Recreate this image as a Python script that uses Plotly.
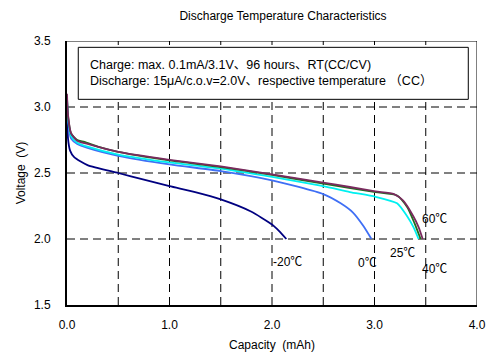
import plotly.graph_objects as go

cap_m20 = [0, 0.01, 0.03, 0.07, 0.2, 0.5, 0.75, 1.0, 1.25, 1.5, 1.79, 2.0, 2.07, 2.14]
v_m20 = [3.06, 2.76, 2.67, 2.62, 2.56, 2.50, 2.45, 2.40, 2.355, 2.30, 2.21, 2.11, 2.06, 2.0]

cap_0 = [0, 0.01, 0.04, 0.1, 0.2, 0.5, 1.0, 1.5, 2.0, 2.5, 2.67, 2.79, 2.89, 2.97]
v_0 = [3.05, 2.90, 2.76, 2.72, 2.69, 2.63, 2.565, 2.515, 2.445, 2.34, 2.27, 2.20, 2.10, 2.0]

cap_25 = [0, 0.01, 0.04, 0.1, 0.2, 0.5, 1.0, 1.5, 2.0, 2.5, 2.76, 3.01, 3.22, 3.32, 3.38, 3.43]
v_25 = [3.07, 2.92, 2.78, 2.73, 2.70, 2.64, 2.58, 2.533, 2.47, 2.40, 2.356, 2.32, 2.27, 2.17, 2.09, 2.0]

cap_40 = [0, 0.01, 0.04, 0.1, 0.17, 0.3, 0.5, 1.0, 1.5, 2.0, 2.5, 3.01, 3.22, 3.32, 3.39, 3.45]
v_40 = [3.08, 2.93, 2.80, 2.75, 2.735, 2.70, 2.66, 2.595, 2.545, 2.485, 2.42, 2.355, 2.33, 2.24, 2.12, 2.0]

cap_60 = [0, 0.01, 0.04, 0.1, 0.2, 0.5, 1.0, 1.5, 2.0, 2.5, 2.76, 3.01, 3.19, 3.28, 3.38, 3.43, 3.47]
v_60 = [3.10, 2.94, 2.80, 2.745, 2.72, 2.66, 2.60, 2.55, 2.49, 2.427, 2.394, 2.36, 2.34, 2.29, 2.17, 2.09, 2.0]

series_names = ["-20℃", "0℃", "25℃", "40℃", "60℃"]
series_colors = ["#000080", "#3F6FF5", "#00F0F0", "#1E6E1E", "#7A2A5E"]
label_x = [2.15, 2.93, 3.27, 3.59, 3.59]
label_y = [1.823, 1.82, 1.894, 1.77, 2.149]

x_ticks = [0, 1, 2, 3, 4]
x_tick_text = ["0.0", "1.0", "2.0", "3.0", "4.0"]
y_ticks = [1.5, 2.0, 2.5, 3.0, 3.5]
y_tick_text = ["1.5", "2.0", "2.5", "3.0", "3.5"]

note_lines = ["Charge: max. 0.1mA/3.1V、96 hours、RT(CC/CV)",
              "Discharge: 15μA/c.o.v=2.0V、respective temperature （CC）"]

FONT = "Liberation Sans, Arial, Noto Sans CJK JP, sans-serif"

fig = go.Figure()
all_x = [cap_m20, cap_0, cap_25, cap_40, cap_60]
all_y = [v_m20, v_0, v_25, v_40, v_60]
for xs, ys, name, col in zip(all_x, all_y, series_names, series_colors):
    fig.add_trace(go.Scatter(x=xs, y=ys, mode="lines", name=name,
                             line=dict(color=col, width=1.8, shape="spline", smoothing=0.6)))

# dashed grid
grid_dash = "8px,5px"
for gx in [0.5, 1.0, 1.5, 2.0, 2.5, 3.0, 3.5]:
    fig.add_shape(type="line", x0=gx, x1=gx, y0=1.5, y1=3.5, xref="x", yref="y",
                  line=dict(color="black", width=1, dash=grid_dash), layer="below")
for gy in [2.0, 2.5, 3.0]:
    fig.add_shape(type="line", x0=0, x1=4, y0=gy, y1=gy, xref="x", yref="y",
                  line=dict(color="black", width=1, dash=grid_dash), layer="below")

# top and right thin frame
fig.add_shape(type="line", x0=0, x1=4, y0=3.5, y1=3.5, xref="x", yref="y",
              line=dict(color="black", width=1))
fig.add_shape(type="line", x0=4, x1=4, y0=1.5, y1=3.5, xref="x", yref="y",
              line=dict(color="black", width=1))

# condition box
fig.add_shape(type="rect", x0=0.11, x1=3.915, y0=3.058, y1=3.452, xref="x", yref="y",
              line=dict(color="black", width=1), fillcolor="white")
fig.add_annotation(x=0.205, y=3.255, xref="x", yref="y", text="<br>".join(note_lines),
                   showarrow=False, xanchor="left", yanchor="middle", align="left",
                   font=dict(family=FONT, size=12.5, color="black"))

for t, lx, ly in zip(series_names, label_x, label_y):
    fig.add_annotation(x=lx, y=ly, xref="x", yref="y", text=t, showarrow=False,
                       font=dict(family=FONT, size=12, color="black"))

# the page body adds an 8px offset, so margins are compensated here
fig.update_layout(
    width=500, height=360,
    margin=dict(l=59, r=31, t=33, b=63, autoexpand=False),
    paper_bgcolor="white", plot_bgcolor="white",
    showlegend=False,
    font=dict(family=FONT, size=12, color="black"),
    title=dict(text="Discharge Temperature Characteristics", x=0.55, xanchor="center",
               y=0.978, yanchor="middle", font=dict(family=FONT, size=12, color="black")),
)
fig.update_xaxes(range=[0, 4], tickvals=x_ticks, ticktext=x_tick_text, showgrid=False,
                 zeroline=False, showline=True, linecolor="black", linewidth=2,
                 ticks="", ticklabelstandoff=8, automargin=False,
                 title=dict(text="Capacity  (mAh)", standoff=9, font=dict(size=12)))
fig.update_yaxes(range=[1.5, 3.5], tickvals=y_ticks, ticktext=y_tick_text, showgrid=False,
                 zeroline=False, showline=True, linecolor="black", linewidth=2,
                 ticks="", ticklabelstandoff=12, automargin=False,
                 title=dict(text="Voltage  (V)", standoff=6, font=dict(size=12)))

fig.write_html("out.html")
